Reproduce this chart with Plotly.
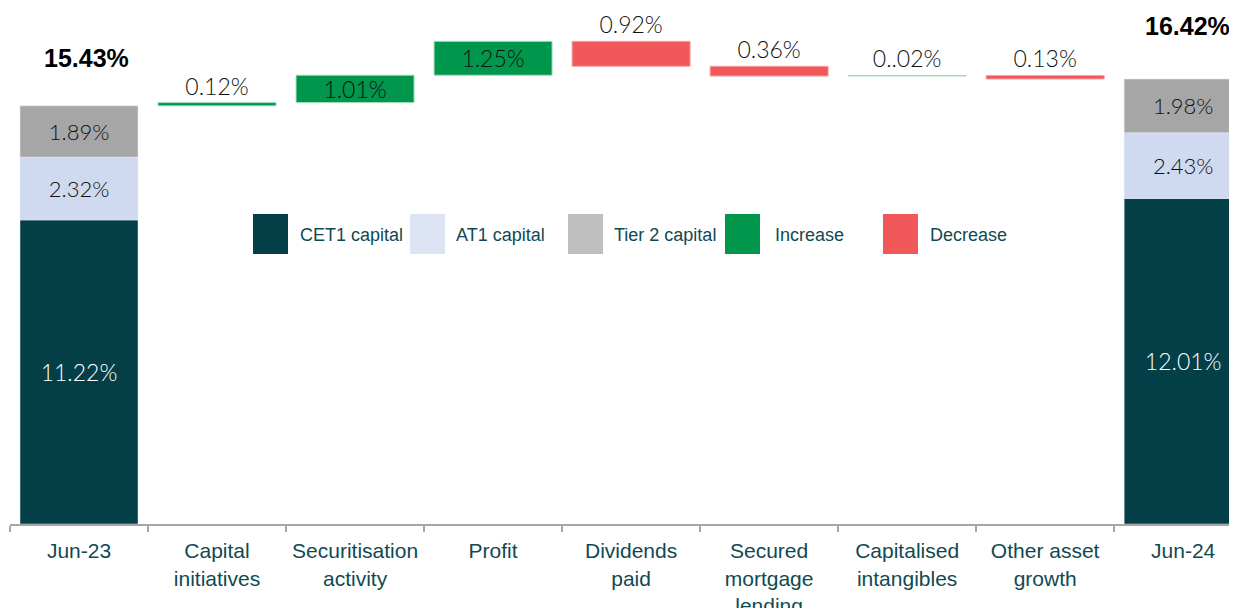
import plotly.graph_objects as go

# ---- data ----
categories = ["Jun-23", "Capital<br>initiatives", "Securitisation<br>activity", "Profit",
              "Dividends<br>paid", "Secured<br>mortgage<br>lending", "Capitalised<br>intangibles",
              "Other asset<br>growth", "Jun-24"]
total_cats = [categories[0], categories[-1]]
cet1 = [11.22, 12.01]
at1 = [2.32, 2.43]
tier2 = [1.89, 1.98]
movement_cats = categories[1:-1]
movements = [0.12, 1.01, 1.25, -0.92, -0.36, 0.02, -0.13]
movement_labels = ["0.12%", "1.01%", "1.25%", "0.92%", "0.36%", "0..02%", "0.13%"]
legend_names = ["CET1 capital", "AT1 capital", "Tier 2 capital", "Increase", "Decrease"]

# ---- styles ----
C_CET1 = "#043F48"
C_AT1 = "#CFD9EF"
C_T2 = "#A6A6A6"
C_INC = "#00964C"
C_DEC = "#F0585A"
C_INC_EDGE = "#9FDDBA"
C_DEC_EDGE = "#F7A3A4"
LEG_COLORS = ["#043F48", "#DCE3F2", "#BFBFBF", "#00964C", "#F0585A"]
TXT = "#0F4A52"
VAL_TXT = "#111111"
VAL_FONT = "Lato"
BAR_W = 0.855

# page has an 8px body margin: figure is 1229x600, placed at (8, 8)
OFF = 8
FIG_W, FIG_H = 1237 - OFF, 608 - OFF

fig = go.Figure()

totals = [c + a + t for c, a, t in zip(cet1, at1, tier2)]
bases_at1 = cet1
bases_t2 = [c + a for c, a in zip(cet1, at1)]

fig.add_trace(go.Bar(x=total_cats, y=cet1, base=[0, 0], marker_color=C_CET1, width=BAR_W,
                     text=[f"{v:.2f}%" for v in cet1], textposition="inside", insidetextanchor="middle",
                     textfont=dict(color="white", size=23, family=VAL_FONT, weight=300),
                     constraintext="none", showlegend=False))
fig.add_trace(go.Bar(x=total_cats, y=at1, base=bases_at1, marker_color=C_AT1, width=BAR_W,
                     text=[f"{v:.2f}%" for v in at1], textposition="inside", insidetextanchor="middle",
                     textfont=dict(color=VAL_TXT, size=22, family=VAL_FONT, weight=300),
                     constraintext="none", showlegend=False))
fig.add_trace(go.Bar(x=total_cats, y=tier2, base=bases_t2, marker_color=C_T2, width=BAR_W,
                     text=[f"{v:.2f}%" for v in tier2], textposition="inside", insidetextanchor="middle",
                     textfont=dict(color=VAL_TXT, size=22, family=VAL_FONT, weight=300),
                     constraintext="none", showlegend=False))

# waterfall movements
running = totals[0]
for cat, d, lab in zip(movement_cats, movements, movement_labels):
    start, end = running, running + d
    running = end
    color = C_INC if d > 0 else C_DEC
    edge = C_INC_EDGE if d > 0 else C_DEC_EDGE
    pos = "inside" if abs(d) >= 1 else "outside"
    fig.add_trace(go.Bar(x=[cat], y=[abs(d)], base=[min(start, end)], marker_color=color, width=BAR_W,
                         marker_line=dict(width=1, color=edge),
                         text=[lab], textposition=pos, insidetextanchor="middle",
                         textfont=dict(color=VAL_TXT, size=23, family=VAL_FONT, weight=300),
                         constraintext="none", cliponaxis=False, showlegend=False))

# totals annotations
shifts = [(7, 48), (4, 53)]
for cat, tot, (xs, ys) in zip(total_cats, totals, shifts):
    fig.add_annotation(x=cat, y=tot, text=f"<b>{tot:.2f}%</b>", showarrow=False,
                       xshift=xs, yshift=ys, font=dict(family="Arial, Liberation Sans", size=25, color="black"))

# custom legend (screen pixel positions -> paper coords)
L, R, TOP, BOT = 10, 1237, 8, 524
def px(xp):
    return (xp - L) / (R - L)
def py(yp):
    return (BOT - yp) / (BOT - TOP)

sq_x = [253, 410, 568, 725, 883]
txt_x = [298, 454, 612, 773, 928]
for name, col, sx, tx in zip(legend_names, LEG_COLORS, sq_x, txt_x):
    fig.add_shape(type="rect", xref="paper", yref="paper", x0=px(sx), x1=px(sx + 35),
                  y0=py(254), y1=py(214), fillcolor=col, line_width=0, layer="above")
    fig.add_annotation(xref="paper", yref="paper", x=px(tx), y=py(235), text=name, showarrow=False,
                       xanchor="left", yanchor="middle",
                       font=dict(family="Arial, Liberation Sans", size=18, color=TXT))

fig.update_layout(
    barmode="overlay",
    width=FIG_W, height=FIG_H,
    margin=dict(l=L - OFF, r=0, t=0, b=608 - BOT, autoexpand=False),
    plot_bgcolor="white", paper_bgcolor="white",
    showlegend=False,
    xaxis=dict(categoryorder="array", categoryarray=categories, range=[-0.5, 8.39],
               showline=True, linecolor="#A6A6A6", linewidth=2,
               ticks="outside", tickson="boundaries", ticklen=6, tickwidth=2, tickcolor="#A6A6A6",
               ticklabelstandoff=7, automargin=False,
               tickfont=dict(family="Arial, Liberation Sans", size=21, color=TXT),
               showgrid=False, fixedrange=True),
    yaxis=dict(range=[0.0, (BOT - OFF) / 27.1], visible=False, showgrid=False, zeroline=False,
               fixedrange=True, automargin=False),
)

fig.write_html("out.html", config={"displayModeBar": False})
